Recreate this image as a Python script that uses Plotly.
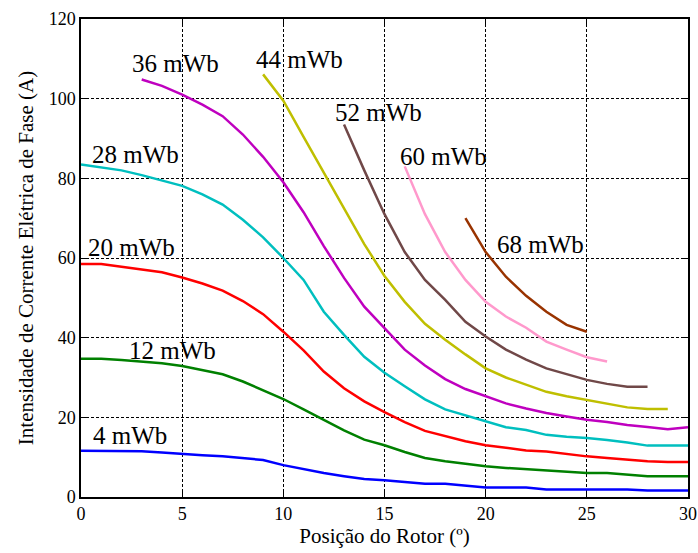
import plotly.graph_objects as go

FONT = "Times New Roman"

x_4 = list(range(0, 31))
y_4 = [11.6, 11.6, 11.6, 11.5, 11.2, 10.8, 10.5, 10.2, 9.8, 9.3, 8.0, 7.0, 6.0, 5.2, 4.5, 4.2,
       3.7, 3.3, 3.3, 2.9, 2.4, 2.4, 2.4, 1.9, 1.9, 1.9, 1.9, 1.9, 1.65, 1.65, 1.65]

x_12 = list(range(0, 31))
y_12 = [34.7, 34.7, 34.4, 34.0, 33.6, 32.9, 31.9, 30.8, 29.0, 26.9, 24.6, 22.0, 19.4, 16.7, 14.4, 13.0,
        11.3, 9.8, 9.0, 8.3, 7.7, 7.3, 7.0, 6.7, 6.3, 6.0, 6.0, 5.6, 5.2, 5.2, 5.2]

x_20 = list(range(0, 31))
y_20 = [58.5, 58.5, 57.8, 57.1, 56.4, 55.1, 53.6, 51.8, 49.2, 45.9, 41.5, 36.8, 31.5, 27.3, 24.0, 21.3,
        18.8, 16.6, 15.3, 14.0, 13.0, 12.3, 11.7, 11.4, 10.8, 10.2, 9.8, 9.4, 9.0, 8.8, 8.8]

x_28 = list(range(0, 31))
y_28 = [83.5, 82.8, 82.0, 80.8, 79.5, 78.1, 76.0, 73.4, 69.6, 65.2, 60.0, 54.5, 46.5, 40.7, 35.2, 31.2,
        27.8, 24.5, 22.0, 20.5, 19.0, 17.5, 16.8, 15.6, 15.1, 14.8, 14.3, 13.7, 12.9, 12.9, 12.9]

x_36 = list(range(3, 31))
y_36 = [104.8, 103.2, 101.0, 98.5, 95.6, 91.0, 85.4, 79.0, 71.5, 63.0, 55.0, 47.8, 42.4, 37.0,
        33.0, 29.6, 27.1, 25.2, 23.5, 22.2, 21.1, 20.2, 19.4, 18.8, 18.1, 17.6, 17.0, 17.5]

x_44 = list(range(9, 30))
y_44 = [106.1, 99.5, 90.4, 81.5, 72.5, 63.5, 55.5, 49.0, 43.5, 39.5, 35.8, 32.3, 30.0, 28.2,
        26.4, 25.3, 24.4, 23.4, 22.5, 22.1, 22.1]

x_52 = list(range(13, 29))
y_52 = [93.5, 82.0, 71.0, 61.5, 54.5, 49.5, 44.0, 40.3, 37.0, 34.5, 32.3, 30.8, 29.4, 28.4, 27.7, 27.7]

x_60 = list(range(16, 27))
y_60 = [83.0, 71.0, 61.5, 54.5, 49.0, 45.3, 42.5, 39.0, 37.0, 35.1, 34.0]

x_68 = list(range(19, 26))
y_68 = [70.0, 61.5, 55.3, 50.5, 46.5, 43.2, 41.5]

series = [
    ("4 mWb", x_4, y_4, "#0000FF"),
    ("12 mWb", x_12, y_12, "#008000"),
    ("20 mWb", x_20, y_20, "#FF0000"),
    ("28 mWb", x_28, y_28, "#00BFBF"),
    ("36 mWb", x_36, y_36, "#BF00BF"),
    ("44 mWb", x_44, y_44, "#BFBF00"),
    ("52 mWb", x_52, y_52, "#704848"),
    ("60 mWb", x_60, y_60, "#FF99CC"),
    ("68 mWb", x_68, y_68, "#993300"),
]

label_text = ["4 mWb", "12 mWb", "20 mWb", "28 mWb", "36 mWb", "44 mWb", "52 mWb", "60 mWb", "68 mWb"]
label_x = [2.4, 4.5, 2.5, 2.7, 4.65, 10.8, 14.7, 17.9, 22.7]
label_y = [15.5, 36.8, 62.6, 86.0, 108.8, 109.9, 96.6, 85.5, 63.5]

fig = go.Figure()
for name, xs, ys, col in series:
    fig.add_trace(go.Scatter(x=xs, y=ys, mode="lines", name=name,
                             line=dict(color=col, width=2.5), showlegend=False))

for t, lx, ly in zip(label_text, label_x, label_y):
    fig.add_annotation(x=lx, y=ly, text=t, showarrow=False,
                       font=dict(family=FONT, size=25, color="black"),
                       xanchor="center", yanchor="middle")

axis_common = dict(
    showline=True, linecolor="black", linewidth=1.5, mirror="ticks",
    ticks="inside", ticklen=5, tickcolor="black",
    showgrid=True, gridcolor="black", griddash="3px,2px", gridwidth=1,
    zeroline=False, automargin=False,
    tickfont=dict(family=FONT, size=18, color="black"),
)

fig.update_xaxes(range=[0, 30], tickvals=[0, 5, 10, 15, 20, 25, 30],
                 title=dict(text="Posição do Rotor (º)", font=dict(family=FONT, size=21, color="black"),
                            standoff=4),
                 **axis_common)
fig.update_yaxes(range=[0, 120], tickvals=[0, 20, 40, 60, 80, 100, 120],
                 title=dict(text="Intensidade de Corrente Elétrica de Fase (A)",
                            font=dict(family=FONT, size=21, color="black"), standoff=9),
                 **axis_common)

fig.update_layout(
    width=698, height=553,
    margin=dict(l=81, r=10, t=19, b=56, autoexpand=False),
    paper_bgcolor="white", plot_bgcolor="white",
    font=dict(family=FONT),
)

fig.write_html("out.html")
